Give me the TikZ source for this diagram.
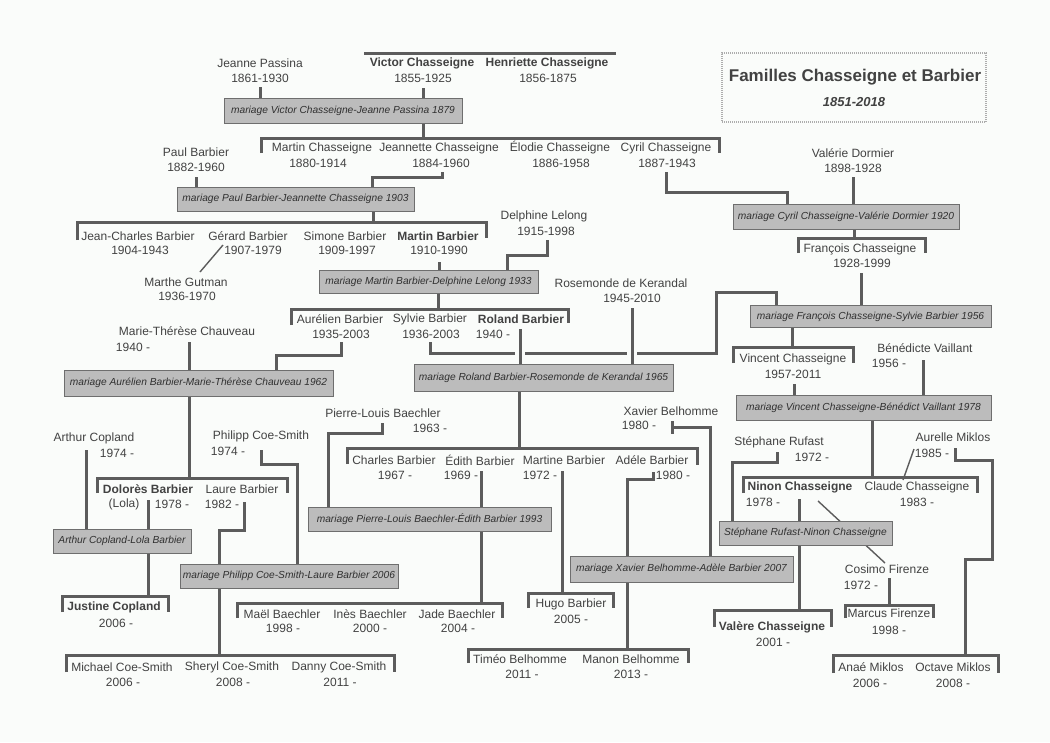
\documentclass[tikz,border=0pt]{standalone}
\usepackage{fontspec}
\setmainfont{Liberation Sans}
\definecolor{bg}{RGB}{250,252,250}
\definecolor{txt}{RGB}{66,66,66}
\definecolor{lnc}{RGB}{92,92,92}
\definecolor{boxf}{RGB}{188,188,188}
\definecolor{boxb}{RGB}{110,110,110}
\definecolor{boxt}{RGB}{48,48,48}
\newcommand\pp[7]{\node[nm] (#1) at (#2,#3) {#4};\node[nm] (#1d) at (#5,#6) {#7};}
\newcommand\ppb[7]{\node[nb] (#1) at (#2,#3) {#4};\node[nm] (#1d) at (#5,#6) {#7};}
\newcommand\mb[6]{\node[mbox, minimum width=#4pt, minimum height=#5pt] (#1) at (#2,#3) {#6};}
\begin{document}
\begin{tikzpicture}[x=1pt,y=-1pt,
  nm/.style={font=\fontsize{12}{14}\selectfont, text=txt, inner sep=0pt},
  nb/.style={font=\fontsize{12}{14}\selectfont\bfseries, text=txt, inner sep=0pt},
  mbox/.style={draw=boxb, fill=boxf, line width=0.9pt, font=\fontsize{10.2}{12}\selectfont\itshape, text=boxt, inner sep=0pt},
  ln/.style={draw=lnc, line width=3pt, line join=miter, line cap=butt}]
\fill[bg] (0,0) rectangle (1050,742);
\useasboundingbox (0,0) rectangle (1050,742);

% ---------- connectors ----------
\draw[ln] (364,53) -- (616,53);
\draw[ln] (260,87) -- (260,98);
\draw[ln] (423,88) -- (423,98);
\draw[ln] (423,123) -- (423,138);
\draw[ln] (261,153) -- (261,138) -- (719,138) -- (719,153);
\draw[ln] (196,177) -- (196,187);
\draw[ln] (442,172) -- (442,177) -- (372,177) -- (372,187);
\draw[ln] (666,172) -- (666,192) -- (787,192) -- (787,204);
\draw[ln] (853,177) -- (853,204);
\draw[ln] (854,229) -- (854,238);
\draw[ln] (798,253) -- (798,238) -- (925,238) -- (925,253);
\draw[ln] (373,211) -- (373,222);
\draw[ln] (77,240) -- (77,222) -- (486,222) -- (486,238);
\draw[lnc, line width=1.4pt] (223,245) -- (200,272);
\draw[ln] (439,262) -- (439,270);
\draw[ln] (547,240) -- (547,255) -- (507,255) -- (507,270);
\draw[ln] (438,293) -- (438,309);
\draw[ln] (291,325) -- (291,309) -- (568,309) -- (568,323);
\draw[ln] (861,273) -- (861,306);
\draw[ln] (430,342) -- (430,353) -- (515,353);
\draw[ln] (525,353) -- (627,353);
\draw[ln] (637,353) -- (716,353) -- (716,292) -- (776,292) -- (776,306);
\draw[ln] (792,327) -- (792,347);
\draw[ln] (733,363) -- (733,347) -- (853,347) -- (853,363);
\draw[ln] (341,342) -- (341,355) -- (276,355) -- (276,370);
\draw[ln] (189,342) -- (189,370);
\draw[ln] (189,396) -- (189,478);
\draw[ln] (97,493) -- (97,478) -- (287,478) -- (287,493);
\draw[ln] (520,329) -- (520,364);
\draw[ln] (632,308) -- (632,364);
\draw[ln] (519,391) -- (519,448);
\draw[ln] (347,464) -- (347,448) -- (697,448) -- (697,465);
\draw[ln] (794,384) -- (794,395);
\draw[ln] (923,360) -- (923,395);
\draw[ln] (872,420) -- (872,477);
\draw[ln] (743,493) -- (743,477) -- (977,477) -- (977,493);
\draw[lnc, line width=1.4pt] (914,449) -- (903,480);
\draw[ln] (955,448) -- (955,460) -- (992,460) -- (992,559) -- (965,559) -- (965,655);
\draw[ln] (833,673) -- (833,655) -- (998,655) -- (998,673);
\draw[ln] (777,452) -- (777,462) -- (732,462) -- (732,521);
\draw[ln] (799,499) -- (799,610);
\draw[ln] (714,627) -- (714,610) -- (831,610) -- (831,627);
\draw[lnc, line width=1.4pt] (818,501) -- (885,563);
\draw[ln] (889,578) -- (889,605);
\draw[ln] (845,618) -- (845,605) -- (933,605) -- (933,618);
\draw[ln] (672,421) -- (672,434);
\draw[ln] (672,427) -- (710,427) -- (710,556);
\draw[ln] (653,472) -- (653,479) -- (627,479) -- (627,556);
\draw[ln] (627,582) -- (627,649);
\draw[ln] (468,663) -- (468,649) -- (688,649) -- (688,663);
\draw[ln] (382,423) -- (382,433) -- (328,433) -- (328,507);
\draw[ln] (481,471) -- (481,603);
\draw[ln] (237,618) -- (237,603) -- (502,603) -- (502,618);
\draw[ln] (562,471) -- (562,593);
\draw[ln] (528,608) -- (528,593) -- (613,593) -- (613,608);
\draw[ln] (86,450) -- (86,529);
\draw[ln] (148,500) -- (148,596);
\draw[ln] (62,612) -- (62,596) -- (168,596) -- (168,612);
\draw[ln] (244,502) -- (244,530) -- (219,530) -- (219,564);
\draw[ln] (261,450) -- (261,464) -- (297,464) -- (297,564);
\draw[ln] (219,588) -- (219,655);
\draw[ln] (66,672) -- (66,655) -- (394,655) -- (394,672);

% ---------- marriage boxes ----------
\mb{B1}{343}{110.5}{238}{25}{mariage Victor Chasseigne-Jeanne Passina 1879}
\mb{B2}{295.5}{199}{237}{24}{mariage Paul Barbier-Jeannette Chasseigne 1903}
\mb{B3}{846}{216.5}{226}{25}{mariage Cyril Chasseigne-Valérie Dormier 1920}
\mb{B4}{428.5}{281.5}{219}{23}{mariage Martin Barbier-Delphine Lelong 1933}
\mb{B5}{870.5}{316.5}{241}{22}{mariage François Chasseigne-Sylvie Barbier 1956}
\mb{B6}{198.5}{383}{269}{26}{mariage Aurélien Barbier-Marie-Thérèse Chauveau 1962}
\mb{B7}{543.5}{377.5}{259}{27}{mariage Roland Barbier-Rosemonde de Kerandal 1965}
\mb{B8}{863.5}{407.5}{255}{25}{mariage Vincent Chasseigne-Bénédict Vaillant 1978}
\mb{B9}{429.5}{519}{243}{24}{mariage Pierre-Louis Baechler-Édith Barbier 1993}
\mb{B10}{122}{541}{138}{24}{Arthur Copland-Lola Barbier}
\mb{B11}{289}{576}{218}{24}{mariage Philipp Coe-Smith-Laure Barbier 2006}
\mb{B12}{681.5}{569}{223}{26}{mariage Xavier Belhomme-Adèle Barbier 2007}
\mb{B13}{805.5}{533}{173}{24}{Stéphane Rufast-Ninon Chasseigne}

% ---------- title ----------
\node[draw=black!32, line width=2.4pt, dash pattern=on 1pt off 1pt, minimum width=264pt, minimum height=69pt, inner sep=0pt] (title) at (854,87.5) {};
\node[font=\fontsize{17}{20}\selectfont\bfseries, text=txt, inner sep=0pt] (titletxt) at (855,77) {Familles Chasseigne et Barbier};
\node[font=\fontsize{13}{15}\selectfont\bfseries\itshape, text=txt, inner sep=0pt] (titledate) at (854,102) {1851-2018};

% ---------- people ----------
\pp{jp}{260}{63}{Jeanne Passina}{260}{78}{1861-1930}
\ppb{vc}{422}{63}{Victor Chasseigne}{423}{78}{1855-1925}
\ppb{hc}{547}{63}{Henriette Chasseigne}{548}{78}{1856-1875}
\pp{mc}{322}{148}{Martin Chasseigne}{318}{163}{1880-1914}
\pp{jc}{439}{148}{Jeannette Chasseigne}{441}{163}{1884-1960}
\pp{ec}{560}{148}{Élodie Chasseigne}{561}{163}{1886-1958}
\pp{cc}{666}{148}{Cyril Chasseigne}{667}{163}{1887-1943}
\pp{pb}{196}{152}{Paul Barbier}{196}{167}{1882-1960}
\pp{vd}{853}{153}{Valérie Dormier}{853}{168}{1898-1928}
\pp{jcb}{138}{236}{Jean-Charles Barbier}{140}{250}{1904-1943}
\pp{gb}{248}{236}{Gérard Barbier}{253}{250}{1907-1979}
\pp{sb}{345}{236}{Simone Barbier}{347}{250}{1909-1997}
\ppb{mb}{438}{236}{Martin Barbier}{439}{250}{1910-1990}
\pp{dl}{544}{216}{Delphine Lelong}{546}{231}{1915-1998}
\pp{fc}{860}{249}{François Chasseigne}{862}{263}{1928-1999}
\pp{mg}{186}{282}{Marthe Gutman}{187}{296}{1936-1970}
\pp{rk}{621}{283}{Rosemonde de Kerandal}{632}{298}{1945-2010}
\pp{ab}{340}{319}{Aurélien Barbier}{341}{334}{1935-2003}
\pp{syb}{430}{319}{Sylvie Barbier}{431}{334}{1936-2003}
\ppb{rb}{521}{319}{Roland Barbier}{493}{334}{1940 -}
\pp{mtc}{187}{331}{Marie-Thérèse Chauveau}{133}{347}{1940 -}
\pp{vic}{793}{359}{Vincent Chasseigne}{793}{374}{1957-2011}
\pp{bv}{925}{348}{Bénédicte Vaillant}{889}{363}{1956 -}
\pp{xb}{671}{411}{Xavier Belhomme}{639}{425}{1980 -}
\pp{plb}{383}{413}{Pierre-Louis Baechler}{430}{428}{1963 -}
\pp{acp}{94}{438}{Arthur Copland}{117}{453}{1974 -}
\pp{pcs}{261}{436}{Philipp Coe-Smith}{228}{451}{1974 -}
\pp{sr}{779}{442}{Stéphane Rufast}{812}{457}{1972 -}
\pp{am}{953}{437}{Aurelle Miklos}{932}{453}{1985 -}
\pp{chb}{394}{460}{Charles Barbier}{395}{475}{1967 -}
\pp{edb}{480}{460}{Édith Barbier}{461}{475}{1969 -}
\pp{mab}{564}{460}{Martine Barbier}{540}{475}{1972 -}
\pp{adb}{652}{460}{Adéle Barbier}{673}{475}{1980 -}
\ppb{dob}{148}{489}{Dolorès Barbier}{172}{504}{1978 -}
\node[nm] (lola) at (124,504) {(Lola)};
\pp{lb}{242}{489}{Laure Barbier}{222}{504}{1982 -}
\ppb{nc}{800}{487}{Ninon Chasseigne}{763}{502}{1978 -}
\pp{clc}{917}{487}{Claude Chasseigne}{917}{502}{1983 -}
\pp{cf}{887}{569}{Cosimo Firenze}{861}{585}{1972 -}
\ppb{jsc}{114}{607}{Justine Copland}{116}{623}{2006 -}
\pp{mlb}{282}{614}{Maël Baechler}{283}{628}{1998 -}
\pp{inb}{370}{614}{Inès Baechler}{370}{628}{2000 -}
\pp{jab}{457}{614}{Jade Baechler}{458}{628}{2004 -}
\pp{hb}{571}{604}{Hugo Barbier}{571}{619}{2005 -}
\ppb{vac}{772}{627}{Valère Chasseigne}{773}{642}{2001 -}
\pp{mf}{889}{613}{Marcus Firenze}{889}{630}{1998 -}
\pp{mcs}{122}{667}{Michael Coe-Smith}{123}{682}{2006 -}
\pp{scs}{232}{667}{Sheryl Coe-Smith}{233}{682}{2008 -}
\pp{dcs}{339}{667}{Danny Coe-Smith}{340}{682}{2011 -}
\pp{tb}{520}{659}{Timéo Belhomme}{522}{674}{2011 -}
\pp{manb}{631}{659}{Manon Belhomme}{631}{674}{2013 -}
\pp{anm}{871}{667}{Anaé Miklos}{870}{683}{2006 -}
\pp{ocm}{953}{667}{Octave Miklos}{953}{683}{2008 -}
\end{tikzpicture}
\end{document}
